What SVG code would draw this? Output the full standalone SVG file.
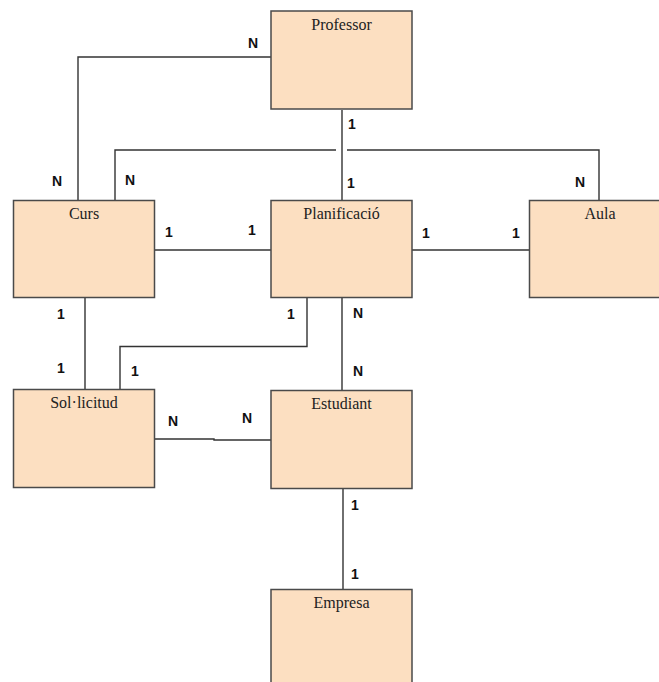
<svg xmlns="http://www.w3.org/2000/svg" width="659" height="682" viewBox="0 0 659 682">
<style>
.box{fill:#fcdfc1;stroke:#4a4a4a;stroke-width:1.5}
.t{font-family:"Liberation Serif",serif;font-size:16px;fill:#222;text-anchor:middle}
.c{fill:none;stroke:#333;stroke-width:1.4}
.l{font-family:"Liberation Sans",Arial,sans-serif;font-size:14px;font-weight:bold;fill:#111;text-anchor:middle}
</style>
<rect width="659" height="682" fill="#fff"/>
<g id="connectors">
<polyline class="c" points="271,57 78,57 78,200"/>
<line class="c" x1="342" y1="110" x2="342" y2="200"/>
<polyline class="c" points="336,150 115,150 115,200"/>
<polyline class="c" points="347,150 599,150 599,200"/>
<line class="c" x1="154" y1="250" x2="271" y2="250"/>
<line class="c" x1="412" y1="250" x2="529" y2="250"/>
<line class="c" x1="85" y1="298" x2="85" y2="389"/>
<polyline class="c" points="307,298 307,346.5 120,346.5 120,389"/>
<line class="c" x1="342" y1="298" x2="342" y2="390"/>
<polyline class="c" points="154,439 214,439 214,440 271,440"/>
<line class="c" x1="343" y1="489" x2="343" y2="589"/>
</g>
<g id="labels">
<text class="l" x="253" y="48">N</text>
<text class="l" x="352" y="129">1</text>
<text class="l" x="57" y="186">N</text>
<text class="l" x="130" y="185">N</text>
<text class="l" x="351" y="188">1</text>
<text class="l" x="580" y="187">N</text>
<text class="l" x="169" y="237">1</text>
<text class="l" x="252" y="235">1</text>
<text class="l" x="426" y="238">1</text>
<text class="l" x="516" y="238">1</text>
<text class="l" x="61" y="319">1</text>
<text class="l" x="291" y="319">1</text>
<text class="l" x="358" y="318">N</text>
<text class="l" x="61" y="373">1</text>
<text class="l" x="135" y="376">1</text>
<text class="l" x="358" y="376">N</text>
<text class="l" x="173" y="426">N</text>
<text class="l" x="247" y="423">N</text>
<text class="l" x="355" y="510">1</text>
<text class="l" x="355" y="579">1</text>
</g>
<g id="professor"><rect class="box" x="271" y="11" width="141" height="98"/><text class="t" x="341.5" y="30">Professor</text></g>
<g id="curs"><rect class="box" x="13.5" y="200.5" width="141" height="97"/><text class="t" x="84" y="219">Curs</text></g>
<g id="planificacio"><rect class="box" x="271" y="200.5" width="141" height="97"/><text class="t" x="341.5" y="219">Planificació</text></g>
<g id="aula"><rect class="box" x="529.5" y="200.5" width="141" height="97"/><text class="t" x="600" y="219">Aula</text></g>
<g id="sollicitud"><rect class="box" x="13.5" y="389.5" width="141" height="98"/><text class="t" x="84" y="408">Sol·licitud</text></g>
<g id="estudiant"><rect class="box" x="271" y="390.5" width="141" height="98"/><text class="t" x="341.5" y="409">Estudiant</text></g>
<g id="empresa"><rect class="box" x="271" y="589.5" width="141" height="98"/><text class="t" x="341.5" y="608">Empresa</text></g>
</svg>
